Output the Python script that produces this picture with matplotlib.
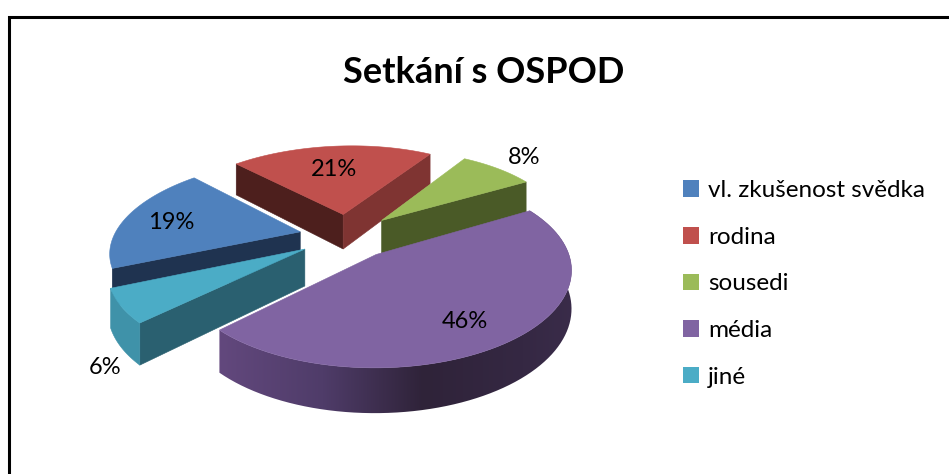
import numpy as np
import matplotlib
matplotlib.use('Agg')
import matplotlib.pyplot as plt
from matplotlib.patches import Polygon, Patch
from matplotlib.colors import to_rgb

plt.rcParams['font.family'] = ['Lato', 'DejaVu Sans']

# data
categories = ['vl. zkušenost svědka', 'rodina', 'sousedi', 'média', 'jiné']
values = [19, 21, 8, 46, 6]
top_colors = ['#4f81bd', '#c0504d', '#9bbb59', '#8064a2', '#4bacc6']
# cut faces of each slice, None where the face looks away from the viewer
start_colors = ['#1f3350', '#4d1f1d', None, None, '#2a6070']
end_colors = [None, '#7f3432', '#4a5a27', None, None]
rim_colors = [None, None, None, 'gradient', '#3f92a9']
label_pos = [(171, 222), (334, 169), (524, 157), (465, 322), (105, 367)]

# projection of the tilted pie, in pixels
CX, CY = 347, 236
RX, RY = 186, 87
PERSP = 0.17
SHEAR = 8
DEPTH = 36
EXPLODE = 0.26
FIRST_ANGLE = 203.5  # where the first slice starts, goes clockwise

# shading of the outer wall of the big slice, left to right
wall_x = [210, 323, 423, 523, 575]
wall_c = ['#64497f', '#4f3c69', '#2f2339', '#352843', '#3a2c4a']


def project(u, v, z=0.0):
    s = 1 / (1 + PERSP * v)
    return CX + RX * u * s + SHEAR * v, CY - RY * v * s + z * s


def outline(off, a0, a1, z=0.0, n=80):
    t = np.radians(np.linspace(a0, a1, n))
    return project(off[0] + np.cos(t), off[1] + np.sin(t), z)


fig = plt.figure(figsize=(9.49, 4.74), dpi=100)
ax = fig.add_axes([0, 0, 1, 1])

spans = []
a = FIRST_ANGLE
for val in values:
    spans.append((a, a - val * 3.6))
    a -= val * 3.6

for i in [1, 0, 2, 4, 3]:
    a0, a1 = spans[i]
    mid = np.radians((a0 + a1) / 2)
    off = (EXPLODE * np.cos(mid), EXPLODE * np.sin(mid))
    ax0, ay0 = project(off[0], off[1])
    ax1, ay1 = project(off[0], off[1], DEPTH)
    # cut faces
    for ang, col in ((a0, start_colors[i]), (a1, end_colors[i])):
        if col is None:
            continue
        ex, ey = outline(off, ang, ang, 0, 1)
        fx, fy = outline(off, ang, ang, DEPTH, 1)
        ax.add_patch(Polygon([(ax0, ay0), (ex[0], ey[0]), (fx[0], fy[0]), (ax1, ay1)],
                             facecolor=col, edgecolor=col, lw=0.4))
    # outer wall
    xt, yt = outline(off, a0, a1)
    xb, yb = outline(off, a0, a1, DEPTH)
    pts = np.c_[np.r_[xt, xb[::-1]], np.r_[yt, yb[::-1]]]
    if rim_colors[i] == 'gradient':
        wall = Polygon(pts, facecolor='none', edgecolor='none')
        ax.add_patch(wall)
        rgb = np.array([to_rgb(c) for c in wall_c])
        xs = np.arange(wall_x[0], wall_x[-1] + 1)
        grad = np.stack([np.interp(xs, wall_x, rgb[:, k]) for k in range(3)], axis=-1)[None, :, :]
        im = ax.imshow(grad, extent=(wall_x[0], wall_x[-1], 474, 0), aspect='auto',
                       interpolation='bilinear')
        im.set_clip_path(wall)
    elif rim_colors[i] is not None:
        ax.add_patch(Polygon(pts, facecolor=rim_colors[i], edgecolor=rim_colors[i], lw=0.4))
    # top
    ax.add_patch(Polygon(np.c_[np.r_[ax0, xt], np.r_[ay0, yt]],
                         facecolor=top_colors[i], edgecolor=top_colors[i], lw=0.4))

ax.set_xlim(0, 949)
ax.set_ylim(474, 0)
ax.axis('off')

for val, (lx, ly) in zip(values, label_pos):
    ax.text(lx, ly, f'{val}%', fontsize=17, color='black', ha='center', va='center')

ax.text(484, 72, 'Setkání s OSPOD', fontsize=26, fontweight='bold', color='black',
        ha='center', va='center')

# outer frame, only left and top are visible
ax.plot([9.5, 9.5, 949], [474, 16.5, 16.5], color='black', lw=2.2, solid_joinstyle='miter',
        solid_capstyle='butt')

handles = [Patch(facecolor=c, edgecolor='none') for c in top_colors]
ax.legend(handles, categories, loc='center left', bbox_to_anchor=(683 / 949, 1 - 284 / 474),
          frameon=False, fontsize=17.5, handlelength=0.66, handleheight=0.66, handletextpad=0.37,
          labelspacing=1.055, borderpad=0, borderaxespad=0)

fig.savefig('out.png', dpi=100)
